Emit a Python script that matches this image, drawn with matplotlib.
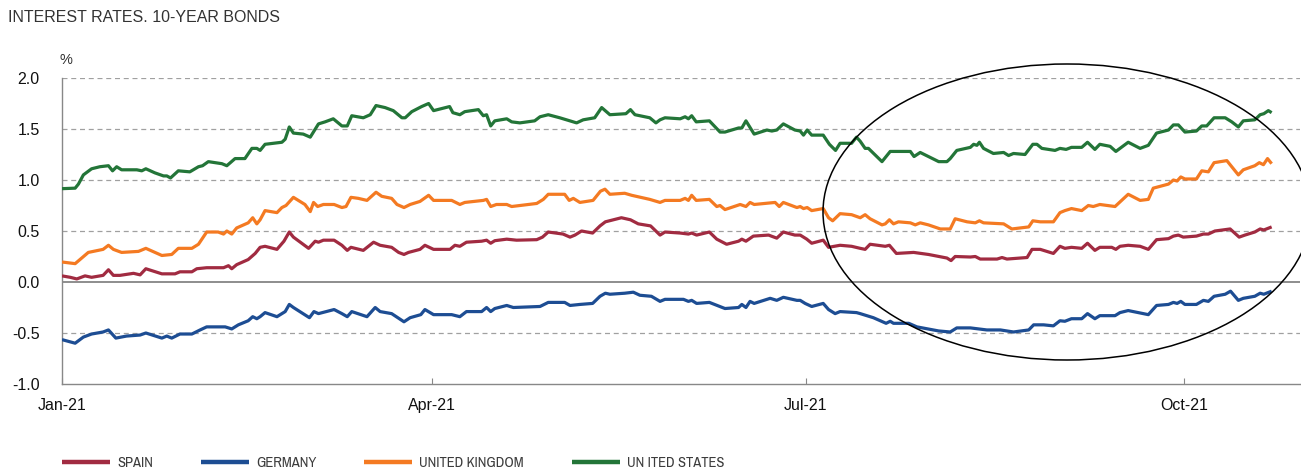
import matplotlib
matplotlib.use("Agg")
import matplotlib.pyplot as plt
from matplotlib import font_manager as fm
from matplotlib.patches import Ellipse
import numpy as np
import pandas as pd

# ---------------- data (days since 2021-01-01, yield %) ----------------
spain_days = [0, 2, 3.6, 5.6, 7.2, 10, 11.3, 12.5, 14.1, 17.4, 19, 20.4, 24.3, 27.5, 28.7, 31.6, 32.8, 35.2,
              39.3, 40.5, 41.3, 42.5, 45.3, 47,
              48.2, 49.4, 52.3, 54, 55.3, 56.3, 60, 61.6, 62.4, 63.6, 66.2, 68.1, 69.4, 70.3, 73.3, 75.8, 77.4,
              80.2, 81.9, 83.2, 84.3, 87.1, 88.3, 90.4, 94.4, 95.6,
              96.8, 98.4, 102.1, 103.3, 104.3, 105.3, 108.2, 110.6, 115.5, 116.9, 118.3, 121.9, 123.6, 124.8,
              126.4, 129.1, 130.9, 132.2, 136.1, 138.3, 140.2, 143.2,
              145.5, 146.7, 150.4, 152.4, 153.2, 154.4, 157.5, 159.3, 161.7, 164.6, 165.4, 166.4, 168.2, 171.9,
              173.9, 175.5, 178.3, 179.6, 181.2, 182.4, 185.2, 186.5, 189.3, 192.1,
              194.2, 195.4, 196.6, 200.3, 201.3, 203, 207.2, 210.8, 215.3, 216.3, 217.3, 221, 222.2, 223.4,
              227.5, 228.7, 229.9, 234.8, 236, 238, 241.2,
              242.8, 244, 245.6, 248.1, 249.5, 251.3, 252.5, 255.4, 256.4, 257.4, 259.4, 262.3, 264.3, 266.3,
              269.2, 270.4, 271.6, 272.8, 276, 277.7, 278.9, 280.5, 284.2, 286.4, 287.8, 290.2, 291.5, 292.4, 294.3]
spain_vals = [0.06, 0.046, 0.03, 0.06, 0.046, 0.065, 0.12, 0.065, 0.065, 0.085, 0.07, 0.13, 0.08, 0.08, 0.10,
              0.10, 0.13, 0.14, 0.14, 0.16, 0.13, 0.17, 0.22, 0.28,
              0.34, 0.35, 0.32, 0.40, 0.49, 0.44, 0.33, 0.40, 0.39, 0.41, 0.41, 0.36, 0.31, 0.34, 0.31, 0.39, 0.36,
              0.34, 0.29, 0.27, 0.29, 0.32, 0.36, 0.32, 0.32, 0.36,
              0.35, 0.39, 0.40, 0.41, 0.38, 0.405, 0.42, 0.41, 0.415, 0.44, 0.49, 0.47, 0.44, 0.46,
              0.50, 0.48, 0.55, 0.59, 0.63, 0.61, 0.57, 0.55,
              0.46, 0.49, 0.48, 0.47, 0.48, 0.46, 0.49, 0.42, 0.37, 0.40, 0.42, 0.40, 0.45, 0.46,
              0.43, 0.49, 0.46, 0.46, 0.42, 0.38, 0.41, 0.34, 0.36, 0.35,
              0.33, 0.32, 0.37, 0.35, 0.36, 0.28, 0.29, 0.27, 0.235, 0.21, 0.25, 0.245, 0.25, 0.225,
              0.225, 0.24, 0.225, 0.24, 0.32, 0.32, 0.28,
              0.35, 0.33, 0.34, 0.33, 0.38, 0.31, 0.34, 0.34, 0.32, 0.35, 0.36, 0.35, 0.32, 0.415,
              0.425, 0.45, 0.46, 0.44, 0.45, 0.47, 0.47, 0.50, 0.52, 0.44, 0.46, 0.49, 0.52, 0.51, 0.54]

germany_days = [0, 3.2, 5.2, 7.2, 10, 11.3, 13.1, 15.7, 19, 20.4, 24.3, 25.5, 26.7, 28.7, 31.6, 33.6, 35.2,
                39.7, 41.3, 42.9, 45.3, 46.4, 47.4,
                48.2, 49.4, 52.3, 54.3, 55.3, 56.3, 60.2, 61.3, 62.4, 66.2, 68.1, 69.4, 70.5, 74.2, 76.2, 77.4,
                80.2, 83.2, 84.7, 87.3, 88.3, 90.4, 94.8,
                96.8, 98.4, 102.1, 103.3, 104.3, 105.3, 108.2, 109.8, 116.3, 118.3, 122.3, 123.6, 126, 129.1,
                130.9, 132.2, 133.3, 136.9, 139, 140.6, 143.4,
                145.5, 146.7, 151.2, 152.4, 153.2, 154.4, 157.5, 161.3, 164.6, 165.4, 166.4, 167.4, 168.4, 172.3,
                173.9, 175.5, 178.8, 179.6, 180.8, 182.4, 185.2, 186.5, 188.1, 189.3, 193.3,
                194.2, 197.4, 200.5, 201.5, 202.3, 206, 208, 213.3, 216.1, 217.7, 221, 225, 228.3, 231.5, 235.2,
                236.4, 238.8, 241.2,
                242.8, 244, 245.6, 248.1, 249.5, 251.3, 252.5, 256.2, 257.4, 259.4, 264.3, 266.3, 269.2, 270.4,
                271.3, 272.2, 273.2, 276, 277.7, 278.9, 280.3, 283, 284.3, 286.2, 287.4, 290.2, 291.5, 292.4, 294.3]
germany_vals = [-0.565, -0.60, -0.54, -0.51, -0.49, -0.47, -0.55, -0.53, -0.52, -0.50, -0.55, -0.53, -0.55,
                -0.51, -0.51, -0.47, -0.44, -0.44, -0.46, -0.42, -0.38, -0.34, -0.36,
                -0.34, -0.30, -0.34, -0.29, -0.22, -0.25, -0.35, -0.29, -0.31, -0.27, -0.31, -0.34, -0.29, -0.34,
                -0.25, -0.29, -0.31, -0.39, -0.35, -0.32, -0.27, -0.32, -0.32,
                -0.34, -0.29, -0.29, -0.25, -0.29, -0.26, -0.23, -0.25, -0.24, -0.20, -0.20, -0.23, -0.22, -0.21,
                -0.14, -0.11, -0.12, -0.11, -0.10, -0.13, -0.14,
                -0.19, -0.17, -0.17, -0.19, -0.18, -0.21, -0.20, -0.26, -0.25, -0.22, -0.25, -0.19, -0.21, -0.16,
                -0.18, -0.15, -0.18, -0.18, -0.21, -0.24, -0.21, -0.27, -0.31, -0.29, -0.30,
                -0.31, -0.35, -0.405, -0.385, -0.405, -0.405, -0.44, -0.48, -0.49, -0.45, -0.45, -0.47, -0.47,
                -0.49, -0.47, -0.42, -0.42, -0.43,
                -0.38, -0.385, -0.36, -0.36, -0.31, -0.36, -0.33, -0.33, -0.30, -0.28, -0.32, -0.23, -0.22, -0.20,
                -0.21, -0.19, -0.22, -0.22, -0.18, -0.19, -0.14, -0.12, -0.09, -0.18, -0.16, -0.14, -0.11, -0.12,
                -0.09]

uk_days = [0, 3.2, 6.4, 10, 11.3, 12.5, 14.5, 18.6, 20.4, 24.3, 26.7, 28.3, 31.6, 33.2, 35.2, 38, 39.3, 40.1,
           41.3, 42.5, 45.3, 46.4, 47.4,
           48.2, 49.4, 52.3, 53.5, 54.5, 56.3, 59.1, 60.4, 61.2, 62.2, 63.6, 66.2, 68.1, 69.1, 70.3, 72.1, 74.2,
           76.4, 77.8, 80.2, 81.5, 83.2, 84.7, 87.1, 89.2, 90.4, 94.8,
           96.8, 98, 102.5, 103.3, 104.3, 105.7, 108.2, 109.4, 115.5, 117.1, 118.3, 122.3, 123.4, 124.4, 126,
           129.2, 131, 132.1, 133.3, 136.9, 138.6, 143,
           145.5, 146.7, 150.4, 151.6, 152.4, 153.2, 154.3, 157.5, 159.3, 160.1, 161.3, 165, 166.4, 167.4, 168.4,
           173.5, 174.5, 175.5, 178.8, 179.6, 180.4, 181.3, 182.4, 185.2, 186.5, 187.5, 189.3, 192.1,
           194.2, 195.4, 196.6, 199.5, 200.3, 201.3, 202.3, 203.5, 206.4, 207.6, 208.8, 210.8, 213.7, 216.1,
           217.3, 220.2, 222.2, 223.2, 224.2, 229.1, 231.1, 235.2, 236.2, 238, 241.2,
           242.8, 244, 245.6, 248.1, 249.7, 250.9, 252.5, 256.2, 259.4, 262.3, 264.3, 265.5, 269.2, 270.4, 271.3,
           272.2, 273.2, 276, 277.3, 278.9, 280.3, 283.4, 286.2, 287.4, 290.2, 291.3, 292.3, 293.3, 294.3]
uk_vals = [0.196, 0.18, 0.29, 0.32, 0.36, 0.32, 0.29, 0.30, 0.33, 0.26, 0.27, 0.33, 0.33, 0.37, 0.49, 0.49,
           0.47, 0.50, 0.47, 0.53, 0.58, 0.63, 0.57,
           0.61, 0.70, 0.68, 0.73, 0.75, 0.83, 0.76, 0.69, 0.78, 0.74, 0.76, 0.76, 0.73, 0.74, 0.83, 0.82, 0.80,
           0.88, 0.84, 0.82, 0.76, 0.73, 0.76, 0.79, 0.85, 0.80, 0.80,
           0.76, 0.78, 0.80, 0.81, 0.74, 0.76, 0.76, 0.74, 0.77, 0.81, 0.86, 0.86, 0.80, 0.82, 0.78,
           0.80, 0.89, 0.91, 0.86, 0.87, 0.85, 0.81,
           0.78, 0.80, 0.80, 0.82, 0.80, 0.85, 0.80, 0.81, 0.74, 0.75, 0.71, 0.76, 0.74, 0.78, 0.76,
           0.78, 0.74, 0.78, 0.73, 0.74, 0.72, 0.73, 0.70, 0.72, 0.63, 0.60, 0.67, 0.66,
           0.63, 0.66, 0.62, 0.56, 0.57, 0.61, 0.57, 0.59, 0.58, 0.56, 0.58, 0.56, 0.52, 0.52,
           0.62, 0.59, 0.58, 0.60, 0.58, 0.57, 0.52, 0.54, 0.60, 0.59, 0.59,
           0.68, 0.70, 0.72, 0.70, 0.75, 0.74, 0.76, 0.74, 0.86, 0.80, 0.81, 0.92, 0.96, 1.00, 0.99,
           1.03, 1.01, 1.01, 1.09, 1.08, 1.17, 1.19, 1.05, 1.10, 1.14, 1.17, 1.15, 1.21, 1.16]

us_days = [0, 3.2, 4, 5.2, 7.2, 9.2, 11.3, 12.3, 13.3, 14.5, 18.2, 19.4, 20.4, 22.6, 24.7, 25.5, 26.4, 28.3,
           31.1, 33.2, 34.2, 35.6, 38.9, 40.1, 42.1, 44.5, 46.2, 47.4,
           48.2, 49.4, 51.4, 53.5, 54.3, 55.3, 56.3, 58.7, 60.4, 62.4, 64, 66, 68.1, 69.4, 70.5, 73.3, 75, 76.4,
           78.6, 80.6, 82.7, 83.5, 85.1, 87.5, 89.2, 90.4, 92.4, 94.3, 95.1,
           96.8, 98, 101.3, 102.5, 103.3, 104.3, 105.3, 108.2, 109.4, 111.4, 115, 116.3, 118.3, 121.1, 125.2,
           126.8, 129.6, 131.3, 133.3, 137.2, 138.3, 139.4, 143, 144.5,
           145.5, 146.7, 150.4, 151.6, 152.4, 153.2, 154.3, 157.5, 160.1, 161.3, 164.6, 165.4, 166.4, 168.4,
           171.5, 172.7, 173.9, 175.5, 178.3, 179.6, 180.4, 181.3, 182.4, 185.2, 186.7, 188.2, 189.3, 192.1, 193.3,
           194.2, 195.4, 196.2, 199.5, 201.5, 203.1, 206.4, 207.3, 208.8, 210.8, 213.3, 215.3, 216.1, 217.7, 221,
           221.8, 222.6, 223.2, 224.2, 226.6, 229.1, 230.3, 231.5, 234.3, 236.2, 237.2, 238.4, 241.6,
           242.8, 244.3, 245.6, 248.1, 249.5, 251.3, 252.5, 255, 256.4, 259.4, 262.3, 264.3, 266.3, 269.2, 270.4,
           271.6, 273.2, 276, 277.3, 278.5, 280.3, 283, 284.6, 286.2, 287.4, 290.2, 291.5, 292.4, 293.5, 294.3]
us_vals = [0.915, 0.92, 0.96, 1.05, 1.11, 1.13, 1.14, 1.09, 1.13, 1.10, 1.10, 1.09, 1.11, 1.07, 1.04, 1.04,
           1.02, 1.09, 1.08, 1.13, 1.14, 1.18, 1.16, 1.14, 1.21, 1.21, 1.31, 1.31,
           1.29, 1.35, 1.36, 1.37, 1.40, 1.52, 1.46, 1.45, 1.42, 1.55, 1.57, 1.60, 1.53, 1.53, 1.63, 1.61, 1.64,
           1.73, 1.71, 1.68, 1.61, 1.61, 1.67, 1.72, 1.75, 1.68, 1.70, 1.72, 1.66,
           1.64, 1.67, 1.69, 1.63, 1.64, 1.53, 1.58, 1.60, 1.57, 1.56, 1.58, 1.62, 1.64, 1.61, 1.56,
           1.59, 1.61, 1.71, 1.64, 1.65, 1.69, 1.64, 1.61, 1.56,
           1.59, 1.61, 1.60, 1.62, 1.60, 1.63, 1.57, 1.58, 1.47, 1.47, 1.51, 1.51, 1.58, 1.45,
           1.49, 1.48, 1.49, 1.55, 1.49, 1.48, 1.44, 1.49, 1.44, 1.44, 1.35, 1.29, 1.36, 1.36, 1.42,
           1.38, 1.31, 1.31, 1.18, 1.28, 1.28, 1.28, 1.23, 1.27, 1.23, 1.18, 1.18, 1.21, 1.29, 1.32,
           1.35, 1.34, 1.37, 1.31, 1.26, 1.27, 1.24, 1.26, 1.25, 1.35, 1.35, 1.31, 1.29,
           1.31, 1.30, 1.32, 1.32, 1.37, 1.30, 1.35, 1.33, 1.28, 1.37, 1.31, 1.34, 1.46, 1.49, 1.54,
           1.54, 1.47, 1.48, 1.53, 1.53, 1.61, 1.61, 1.57, 1.52, 1.58, 1.59, 1.64, 1.65, 1.68, 1.66]

series_names = ["SPAIN", "GERMANY", "UNITED KINGDOM", "UN ITED STATES"]
series_colors = ["#A12B41", "#1D4D93", "#F47A22", "#237538"]
tick_dates = ["2021-01-01", "2021-04-01", "2021-07-01", "2021-10-01"]
tick_labels = ["Jan-21", "Apr-21", "Jul-21", "Oct-21"]
y_ticks = [-1.0, -0.5, 0.0, 0.5, 1.0, 1.5, 2.0]

# ---------------- fonts ----------------
installed = {f.name for f in fm.fontManager.ttflist}
narrow = None
for cand in ["Liberation Sans Narrow", "Arial Narrow", "Archivo Narrow", "Roboto Condensed",
             "PT Sans Narrow", "Barlow Condensed"]:
    if cand in installed:
        narrow = cand
        break

# ---------------- figure ----------------
W, H = 1301, 474
fig = plt.figure(figsize=(W / 100, H / 100), dpi=100)
plt.rcParams['font.family'] = ['Liberation Sans', 'DejaVu Sans']

ax = fig.add_axes([62 / W, 1 - 384 / H, (1300 - 62) / W, (384 - 78) / H])

base = pd.Timestamp("2021-01-01")
def to_dates(days):
    return base + pd.to_timedelta(np.asarray(days, dtype=float), unit="D")

all_days = [spain_days, germany_days, uk_days, us_days]
all_vals = [spain_vals, germany_vals, uk_vals, us_vals]
for d, v, name, col in zip(all_days, all_vals, series_names, series_colors):
    ax.plot(to_dates(d), v, color=col, lw=2.3, label=name, solid_joinstyle="round",
            solid_capstyle="butt", zorder=3)

ax.set_ylim(-1.0, 2.0)
ax.set_xlim(base, base + pd.Timedelta(days=301.2))

for yv in y_ticks:
    if yv == 0.0:
        ax.axhline(yv, color="#7a7a7a", lw=1.2, zorder=2)
    elif yv == -1.0:
        pass
    else:
        ax.axhline(yv, color="#a0a0a0", lw=0.9, ls=(0, (4, 3)), zorder=1)

for s in ["top", "right"]:
    ax.spines[s].set_visible(False)
ax.spines["left"].set_color("#888888")
ax.spines["bottom"].set_color("#888888")
ax.spines["left"].set_linewidth(1.0)
ax.spines["bottom"].set_linewidth(1.0)

ax.set_yticks(y_ticks)
ax.set_yticklabels([f"{v:.1f}" for v in y_ticks])
ax.tick_params(axis="y", length=0, pad=16, labelsize=11.5, labelcolor="#111111")
ax.set_xticks(pd.to_datetime(tick_dates))
ax.set_xticklabels(tick_labels)
ax.tick_params(axis="x", direction="in", length=4.5, width=0.8, color="#888888", pad=10,
               labelsize=11.5, labelcolor="#111111")

# titles
fig.text(8 / W, 1 - 18 / H, "INTEREST RATES. 10-YEAR BONDS", fontsize=11.5, color="#333333",
         ha="left", va="center")
fig.text(60 / W, 1 - 60 / H, "%", fontsize=10.5, color="#333333", ha="left", va="center")

# ellipse annotation
ell = Ellipse((1067 / W, 1 - 212 / H), 488 / W, 296 / H, transform=fig.transFigure,
              fill=False, edgecolor="black", lw=1.1, zorder=5)
fig.add_artist(ell)

# legend
if narrow is not None:
    leg_prop = {"family": [narrow, "Liberation Sans"], "size": 10.5}
else:
    leg_prop = {"family": ["Liberation Sans"], "size": 8.6}
fs_px = leg_prop["size"] * 100 / 72
leg = ax.legend(loc="center left", bbox_to_anchor=(62 / W, 1 - 463 / H), bbox_transform=fig.transFigure,
                ncol=4, frameon=False, handlelength=48 / fs_px, handletextpad=7 / fs_px,
                columnspacing=48 / fs_px, borderpad=0, borderaxespad=0, prop=leg_prop)
for t in leg.get_texts():
    t.set_color("#3c3c3c")
for l in leg.get_lines():
    l.set_linewidth(3.2)

fig.savefig("out.png", dpi=100)
